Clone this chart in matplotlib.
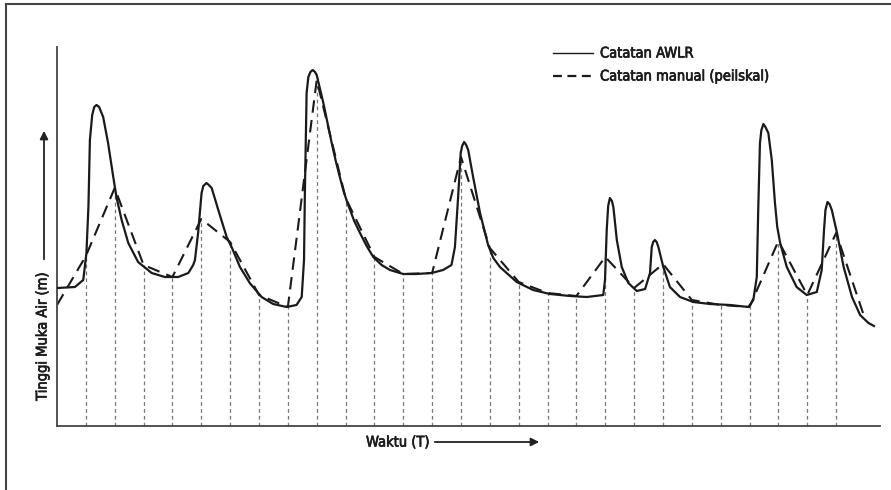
import matplotlib.pyplot as plt
import matplotlib.patheffects as pe
from matplotlib.lines import Line2D
from matplotlib.patches import FancyArrowPatch

# Manual staff gauge readings (peilskal), one per time step
manual_t = list(range(29))
manual_h = [121, 170, 238, 161, 149, 207, 184, 131, 119, 346,
            228, 169, 152, 153, 269, 178, 144, 133, 130, 169,
            138, 162, 126, 121, 119, 185, 131, 193, 107]

# AWLR continuous record
awlr_t = [0.02, 0.62, 0.91, 1.02, 1.09, 1.14, 1.22, 1.29, 1.37, 1.46,
          1.60, 1.77, 1.95, 2.06, 2.24, 2.47, 2.81, 3.28, 3.74, 4.20,
          4.55, 4.72, 4.78, 4.89, 5.01, 5.07, 5.18, 5.26, 5.36, 5.59,
          5.88, 6.05, 6.34, 6.68, 7.09, 7.49, 7.96, 8.30, 8.48, 8.56,
          8.59, 8.65, 8.71, 8.78, 8.86, 8.94, 9.00, 9.09, 9.23, 9.52,
          9.66, 9.80, 9.94, 10.09, 10.30, 10.50, 10.73, 10.96, 11.25, 11.54,
          12.00, 12.46, 12.98, 13.38, 13.67, 13.79, 13.90, 13.99, 14.04, 14.11,
          14.18, 14.25, 14.42, 14.66, 14.94, 15.12, 15.35, 15.93, 16.50, 17.08,
          17.78, 18.36, 18.93, 18.99, 19.05, 19.10, 19.16, 19.23, 19.28, 19.40,
          19.57, 19.80, 20.09, 20.38, 20.55, 20.61, 20.66, 20.72, 20.78, 20.84,
          21.01, 21.24, 21.59, 22.05, 22.63, 23.32, 23.96, 24.13, 24.25, 24.30,
          24.36, 24.41, 24.48, 24.55, 24.65, 24.77, 24.88, 24.96, 25.06, 25.29,
          25.63, 25.98, 26.33, 26.50, 26.58, 26.63, 26.70, 26.77, 26.85, 27.03,
          27.26, 27.55, 27.83, 28.12, 28.31]
awlr_h = [138, 139, 146, 173, 220, 286, 311, 319, 321, 319,
          309, 283, 249, 229, 206, 183, 164, 153, 149, 149,
          153, 161, 166, 193, 233, 240, 243, 241, 238, 216,
          189, 179, 159, 143, 129, 122, 119, 121, 129, 166,
          233, 333, 349, 354, 356, 354, 351, 340, 323, 283,
          265, 249, 234, 221, 205, 193, 180, 169, 161, 156,
          152, 152, 153, 156, 161, 179, 229, 273, 280, 284,
          281, 276, 249, 213, 181, 168, 159, 144, 136, 132,
          130, 129, 131, 146, 196, 220, 228, 225, 219, 186,
          159, 143, 135, 137, 153, 179, 184, 186, 184, 179,
          159, 139, 129, 124, 122, 121, 119, 126, 149, 216,
          283, 296, 302, 299, 293, 266, 223, 199, 183, 159,
          139, 131, 134, 156, 196, 216, 224, 222, 216, 193,
          159, 129, 111, 103, 100]

plt.rcParams['font.family'] = ['DejaVu Sans']
txt = dict(fontsize=10.5, fontstretch='condensed', color='#1c1c1c',
           path_effects=[pe.withStroke(linewidth=0.5, foreground='#1c1c1c')])

fig = plt.figure(figsize=(8.91, 4.90), dpi=100)
ax = fig.add_axes([57 / 891, 64 / 490, 823 / 891, 379 / 490])

# thin vertical guides at each manual reading
for t, h in zip(manual_t[1:28], manual_h[1:28]):
    ax.plot([t, t], [0, h], color='#777777', lw=0.9, ls=(0, (3, 2.5)), zorder=1)

ax.plot(awlr_t, awlr_h, color='#1a1a1a', lw=1.6, solid_joinstyle='round', zorder=3)
ax.plot(manual_t, manual_h, color='#1a1a1a', lw=1.5, ls=(0, (6, 3.5)), zorder=2)

ax.set_xlim(0, 28.52)
ax.set_ylim(0, 379)
ax.set_xticks([])
ax.set_yticks([])
for s in ['top', 'right']:
    ax.spines[s].set_visible(False)
for s in ['left', 'bottom']:
    ax.spines[s].set_color('#444444')
    ax.spines[s].set_linewidth(1.3)

# legend drawn by hand
fig.add_artist(Line2D([553 / 891, 593 / 891], [1 - 53 / 490, 1 - 53 / 490],
                      color='#1a1a1a', lw=1.0))
fig.add_artist(Line2D([553 / 891, 593 / 891], [1 - 76 / 490, 1 - 76 / 490],
                      color='#1a1a1a', lw=1.6, ls=(0, (4, 2.5))))
fig.text(600 / 891, 1 - 53 / 490, 'Catatan AWLR', va='center', ha='left', **txt)
fig.text(600 / 891, 1 - 76 / 490, 'Catatan manual (peilskal)', va='center', ha='left', **txt)

# axis labels with arrows
fig.text(42 / 891, 1 - 336 / 490, 'Tinggi Muka Air (m)', rotation=90,
         va='center', ha='center', **txt)
fig.add_artist(FancyArrowPatch(
    (44 / 891, 1 - 262 / 490), (44 / 891, 1 - 128 / 490),
    transform=fig.transFigure, arrowstyle='-|>', mutation_scale=12,
    color='#222222', lw=1.3))
fig.text(398 / 891, 1 - 442 / 490, 'Waktu (T)', va='center', ha='center', **txt)
fig.add_artist(FancyArrowPatch(
    (432 / 891, 1 - 442 / 490), (542 / 891, 1 - 442 / 490),
    transform=fig.transFigure, arrowstyle='-|>', mutation_scale=12,
    color='#222222', lw=1.3))

# frame around the whole picture
fig.add_artist(Line2D([6 / 891, 1], [1 - 4 / 490, 1 - 4 / 490], color='#444444', lw=1.5))
fig.add_artist(Line2D([6 / 891, 6 / 891], [0, 1 - 4 / 490], color='#444444', lw=1.5))

fig.savefig('out.png', dpi=100)
